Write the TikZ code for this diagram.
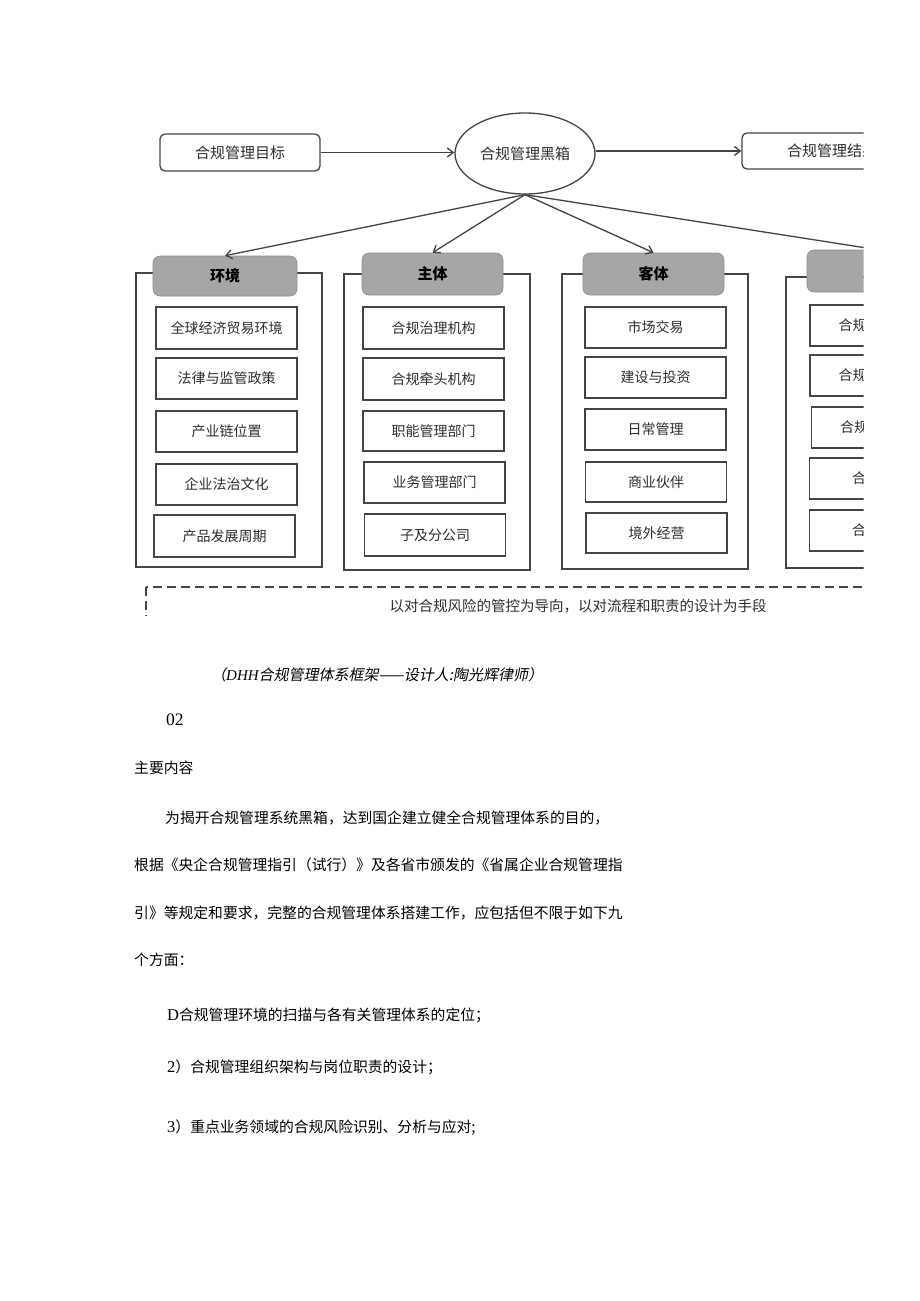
\documentclass[tikz,border=0pt]{standalone}
\usepackage{fontspec}
\setmainfont{Liberation Serif}
\newfontfamily\cjk{Noto Sans CJK SC}
\newfontfamily\cjkit{Noto Sans CJK SC}[FakeSlant=0.2]
\usetikzlibrary{shapes.geometric,arrows.meta}
\definecolor{linec}{HTML}{444444}
\definecolor{hdrc}{HTML}{A6A6A6}
\definecolor{txtc}{HTML}{2E2E2E}
\tikzset{
  topbox/.style={draw=linec, line width=1.3pt, rounded corners=5pt, fill=white, text=txtc,
    font=\cjk\fontsize{15}{15}\selectfont, inner sep=0pt},
  ellnode/.style={ellipse, draw=linec, line width=1.3pt, fill=white, minimum width=140pt,
    minimum height=81pt, inner sep=0pt, text=txtc, font=\cjk\fontsize{15}{15}\selectfont},
  hdr/.style={draw=hdrc!85!black, line width=0.6pt, fill=hdrc, rounded corners=7pt,
    minimum width=141pt, minimum height=42pt, inner sep=0pt,
    font=\cjk\bfseries\fontsize{15}{15}\selectfont, text=black},
  cont/.style={draw=linec, line width=1.3pt, minimum width=186pt, inner sep=0pt},
  inbox/.style={draw=linec, line width=1.3pt, fill=white, minimum width=141pt,
    minimum height=41pt, inner sep=0pt, text=txtc, font=\cjk\fontsize{14}{14}\selectfont},
  arr/.style={draw=linec, line width=1.3pt, -{Straight Barb[length=6pt,width=9pt]}},
  dashbox/.style={draw=linec, line width=1.3pt, dash pattern=on 9pt off 5pt},
  dashtxt/.style={inner sep=0pt, text=txtc, font=\cjk\fontsize{14.5}{14.5}\selectfont},
  bodytxt/.style={anchor=west, inner sep=0pt, text=black, font=\cjk\fontsize{14.8}{14.8}\selectfont},
}
\begin{document}
\begin{tikzpicture}[x=1pt,y=-1pt]
\useasboundingbox (0,0) rectangle (920,1301);
\fill[white] (0,0) rectangle (920,1301);
\begin{scope}
\clip (0,0) rectangle (863.5,615);
% top row
\node[topbox, minimum width=160pt, minimum height=37pt] (goal) at (240,152.5) {合规管理目标};
\node[ellnode] (bb) at (525,153.5) {合规管理黑箱};
\node[topbox, minimum width=180pt, minimum height=36pt] (res) at (832,151) {合规管理结果};
\draw[arr] (goal.east) -- (bb.west |- goal.east);
\draw[arr] (bb.east |- res.west) -- (res.west);
% containers
\node[cont, minimum height=294pt] (c1) at (229,420) {};
\node[cont, minimum height=296pt] (c2) at (437,422) {};
\node[cont, minimum height=295pt] (c3) at (655,421.5) {};
\node[cont, minimum height=291pt] (c4) at (879,422.5) {};
% headers
\node[hdr, minimum width=144pt, minimum height=40pt] (h1) at (225,276) {环境};
\node[hdr] (h2) at (432.5,274) {主体};
\node[hdr] (h3) at (653.5,274) {客体};
\node[hdr] (h4) at (877.5,271) {};
% arrows from black box
\draw[arr] (bb.south) -- (h1.north);
\draw[arr] (bb.south) -- (h2.north);
\draw[arr] (bb.south) -- (h3.north);
\draw[arr] (bb.south) -- (h4.north);
% column 1
\node[inbox, minimum height=42pt] (a1) at (226.5,328) {全球经济贸易环境};
\node[inbox] (a2) at (226.5,378.5) {法律与监管政策};
\node[inbox] (a3) at (226.5,431.5) {产业链位置};
\node[inbox] (a4) at (226.5,484.5) {企业法治文化};
\node[inbox, minimum height=42pt] (a5) at (224.5,536) {产品发展周期};
% column 2
\node[inbox, minimum height=42pt] (b1) at (433.5,328) {合规治理机构};
\node[inbox, minimum height=42pt] (b2) at (433.5,379) {合规牵头机构};
\node[inbox, minimum height=40pt] (b3) at (433.5,431) {职能管理部门};
\node[inbox] (b4) at (434.5,482.5) {业务管理部门};
\node[inbox, minimum height=42pt] (b5) at (435,535) {子及分公司};
% column 3
\node[inbox] (k1) at (655.5,327.5) {市场交易};
\node[inbox] (k2) at (655.5,377.5) {建设与投资};
\node[inbox] (k3) at (655.5,429.5) {日常管理};
\node[inbox, minimum height=40pt] (k4) at (656,482) {商业伙伴};
\node[inbox, minimum height=40pt] (k5) at (656.5,533) {境外经营};
% column 4 (cut off at the picture's edge)
\node[inbox] (m1) at (880.5,325.5) {合规管理制度};
\node[inbox] (m2) at (880.5,375.5) {合规风险识别};
\node[inbox] (m3) at (882,427.5) {合规审查机制};
\node[inbox] (m4) at (880,478.5) {合规培训};
\node[inbox] (m5) at (880,530.5) {合规考核};
% dashed band
\draw[dashbox] (146,587) rectangle (1000,700);
\node[dashtxt] (dt) at (578,606) {以对合规风险的管控为导向，以对流程和职责的设计为手段};
\end{scope}
% text below
\node[anchor=west, inner sep=0pt, text=black, font=\cjkit\fontsize{15}{15}\selectfont] (cap) at (211,675)
  {（{\rmfamily\itshape DHH}合规管理体系框架——设计人:陶光辉律师）};
\node[bodytxt, font=\rmfamily\fontsize{17.5}{17.5}\selectfont] (num) at (166,720) {02};
\node[bodytxt] (head) at (134,768) {主要内容};
\node[bodytxt] (p1) at (165,818) {为揭开合规管理系统黑箱，达到国企建立健全合规管理体系的目的，};
\node[bodytxt] (p2) at (134,865) {根据《央企合规管理指引（试行）》及各省市颁发的《省属企业合规管理指};
\node[bodytxt] (p3) at (134,913) {引》等规定和要求，完整的合规管理体系搭建工作，应包括但不限于如下九};
\node[bodytxt] (p4) at (134,960) {个方面：};
\node[bodytxt] (i1) at (167,1015) {{\rmfamily\fontsize{16.5}{16.5}\selectfont D}合规管理环境的扫描与各有关管理体系的定位；};
\node[bodytxt] (i2) at (167,1067) {{\rmfamily\fontsize{16.5}{16.5}\selectfont 2}）合规管理组织架构与岗位职责的设计；};
\node[bodytxt] (i3) at (167,1128) {{\rmfamily\fontsize{16.5}{16.5}\selectfont 3}）重点业务领域的合规风险识别、分析与应对;};
\end{tikzpicture}
\end{document}
